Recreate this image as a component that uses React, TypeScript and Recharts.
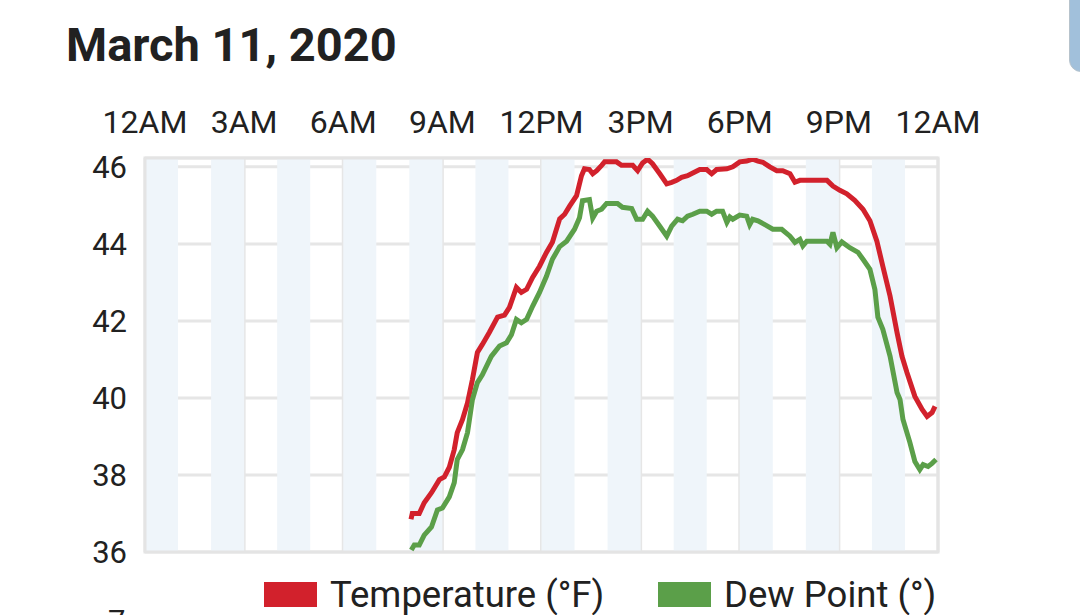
import React from "react";
import { LineChart, Line, XAxis, YAxis, CartesianGrid, ReferenceArea } from "recharts";

const chartTitle = "March 11, 2020";

const xTicks = [0, 3, 6, 9, 12, 15, 18, 21, 24];
const xTickLabels = ["12AM", "3AM", "6AM", "9AM", "12PM", "3PM", "6PM", "9PM", "12AM"];
const yTicks = [36, 38, 40, 42, 44, 46];
const yDomainMax = 46.23;

const bandStartHours = [0, 2, 4, 6, 8, 10, 12, 14, 16, 18, 20, 22];

const seriesNames = ["Temperature (°F)", "Dew Point (°)"];
const seriesColors = ["#d2212c", "#5b9f49"];

const tempHours = [
  8.05, 8.09, 8.3, 8.45, 8.67, 8.91, 9.06, 9.21, 9.36, 9.45, 9.61, 9.76, 9.91, 10.06, 10.21, 10.42,
  10.67, 10.88, 11.03, 11.24, 11.39, 11.55, 11.73, 11.94, 12.15, 12.33, 12.55, 12.7, 12.85, 13.06,
  13.21, 13.3, 13.45, 13.55, 13.67, 13.82, 13.91, 14.27, 14.42, 14.76, 14.91, 15.06, 15.21, 15.36,
  15.58, 15.79, 15.94, 16.09, 16.24, 16.42, 16.58, 16.79, 17.0, 17.15, 17.3, 17.61, 17.79, 18.0,
  18.21, 18.39, 18.55, 18.7, 18.91, 19.12, 19.3, 19.52, 19.67, 19.82, 20.03, 20.64, 20.82, 21.03,
  21.24, 21.48, 21.73, 21.94, 22.15, 22.33, 22.55, 22.76, 22.91, 23.06, 23.3, 23.52, 23.67, 23.82,
  23.91,
];
const tempValues = [
  36.85, 37.0, 37.0, 37.28, 37.54, 37.88, 37.95, 38.2, 38.66, 39.1, 39.44, 39.87, 40.48, 41.18, 41.39,
  41.7, 42.1, 42.15, 42.35, 42.87, 42.74, 42.82, 43.13, 43.42, 43.78, 44.04, 44.65, 44.77, 44.98,
  45.25, 45.77, 45.95, 45.93, 45.82, 45.9, 46.04, 46.13, 46.13, 46.04, 46.04, 45.9, 46.1, 46.2, 46.08,
  45.82, 45.56, 45.6, 45.65, 45.73, 45.77, 45.84, 45.93, 45.93, 45.82, 45.93, 45.95, 46.0, 46.13,
  46.15, 46.2, 46.15, 46.12, 46.0, 45.9, 45.9, 45.82, 45.6, 45.65, 45.65, 45.65, 45.5, 45.39, 45.3,
  45.13, 44.9, 44.6, 44.07, 43.42, 42.64, 41.7, 41.08, 40.66, 40.04, 39.7, 39.52, 39.62, 39.78,
];

const dewHours = [
  8.06, 8.15, 8.3, 8.45, 8.67, 8.85, 9.0, 9.21, 9.36, 9.45, 9.61, 9.76, 9.91, 10.06, 10.21, 10.48,
  10.73, 10.94, 11.09, 11.24, 11.39, 11.55, 11.73, 11.94, 12.15, 12.33, 12.55, 12.76, 13.0, 13.15,
  13.24, 13.45, 13.55, 13.67, 13.82, 13.97, 14.3, 14.45, 14.73, 14.88, 15.06, 15.21, 15.36, 15.58,
  15.79, 15.94, 16.12, 16.27, 16.42, 16.58, 16.79, 17.0, 17.15, 17.3, 17.48, 17.61, 17.7, 17.79,
  18.0, 18.21, 18.3, 18.39, 18.55, 18.76, 19.0, 19.27, 19.52, 19.67, 19.82, 19.91, 20.03, 20.64,
  20.73, 20.82, 20.94, 21.09, 21.33, 21.58, 21.73, 21.94, 22.09, 22.18, 22.33, 22.55, 22.76, 22.85,
  22.94, 23.15, 23.3, 23.45, 23.55, 23.7, 23.82, 23.94,
];
const dewValues = [
  36.05, 36.18, 36.18, 36.44, 36.65, 37.09, 37.14, 37.43, 37.8, 38.4, 38.66, 39.1, 39.96, 40.4, 40.6,
  41.08, 41.35, 41.43, 41.64, 42.04, 41.95, 42.04, 42.38, 42.74, 43.16, 43.6, 43.93, 44.07, 44.38,
  44.68, 45.12, 45.15, 44.67, 44.85, 44.9, 45.05, 45.05, 44.95, 44.92, 44.64, 44.64, 44.85, 44.72,
  44.46, 44.2, 44.46, 44.64, 44.6, 44.72, 44.77, 44.85, 44.85, 44.77, 44.85, 44.85, 44.56, 44.7,
  44.64, 44.75, 44.72, 44.5, 44.64, 44.6, 44.5, 44.38, 44.38, 44.2, 44.04, 44.12, 43.95, 44.07, 44.07,
  43.99, 44.3, 43.9, 44.05, 43.9, 43.78, 43.6, 43.34, 42.82, 42.1, 41.78, 41.08, 40.14, 39.96, 39.44,
  38.84, 38.35, 38.14, 38.27, 38.22, 38.3, 38.4,
];

const tempData = tempHours.map((t, i) => ({ t, v: tempValues[i] }));
const dewData = dewHours.map((t, i) => ({ t, v: dewValues[i] }));

const FONT = "Roboto, 'Noto Sans', sans-serif";
const TEXT = "#212121";

const XTick = (props: any) => {
  const idx = xTicks.indexOf(props.payload.value);
  return (
    <text x={props.x} y={props.y} textAnchor="middle" fill={TEXT} fontSize={32} fontFamily={FONT}>
      {xTickLabels[idx]}
    </text>
  );
};

const YTick = (props: any) => (
  <text x={props.x} y={props.y} dy={11} textAnchor="end" fill={TEXT} fontSize={31} fontFamily={FONT}>
    {props.payload.value}
  </text>
);

export default function App() {
  return (
    <div
      style={{
        position: "fixed",
        left: 0,
        top: 0,
        width: 1080,
        height: 615,
        background: "#ffffff",
        overflow: "hidden",
        fontFamily: FONT,
      }}
    >
      <div
        style={{
          position: "absolute",
          left: 66,
          top: 17,
          fontSize: 47,
          fontWeight: 700,
          color: TEXT,
          lineHeight: "56px",
          whiteSpace: "nowrap",
        }}
      >
        {chartTitle}
      </div>
      <div
        style={{
          position: "absolute",
          left: 1069,
          top: -14,
          width: 30,
          height: 84,
          background: "#a1c0db",
          border: "1px solid #b7c3cc",
          borderRadius: 12,
        }}
      />
      <div style={{ position: "absolute", left: 0, top: 0 }}>
        <LineChart width={1080} height={615} margin={{ top: 118, right: 142, bottom: 63, left: 85 }}>
          {bandStartHours.map((h) => (
            <ReferenceArea
              key={h}
              x1={h}
              x2={h + 1}
              y1={36}
              y2={yDomainMax}
              fill="#eff5fa"
              fillOpacity={1}
              stroke="none"
              ifOverflow="hidden"
            />
          ))}
          <CartesianGrid stroke="#e6e6e6" strokeWidth={3} />
          <ReferenceArea
            x1={0}
            x2={24}
            y1={36}
            y2={yDomainMax}
            fill="none"
            fillOpacity={0}
            stroke="#e4e4e4"
            strokeWidth={3}
          />
          <XAxis
            xAxisId={0}
            type="number"
            dataKey="t"
            orientation="top"
            domain={[0, 24]}
            ticks={xTicks}
            height={40}
            axisLine={false}
            tickLine={false}
            tickSize={0}
            tickMargin={25}
            tick={<XTick />}
            allowDataOverflow
            interval={0}
          />
          <YAxis
            type="number"
            domain={[36, yDomainMax]}
            ticks={yTicks}
            width={60}
            axisLine={false}
            tickLine={false}
            tickSize={0}
            tickMargin={18}
            tick={<YTick />}
            allowDataOverflow
            interval={0}
          />
          <Line
            data={tempData}
            dataKey="v"
            name={seriesNames[0]}
            type="linear"
            stroke={seriesColors[0]}
            strokeWidth={5}
            dot={false}
            isAnimationActive={false}
          />
          <Line
            data={dewData}
            dataKey="v"
            name={seriesNames[1]}
            type="linear"
            stroke={seriesColors[1]}
            strokeWidth={5}
            dot={false}
            isAnimationActive={false}
          />
        </LineChart>
      </div>
      <div style={{ position: "absolute", left: 264, top: 582, width: 53, height: 25, background: seriesColors[0] }} />
      <div
        style={{
          position: "absolute",
          left: 330,
          top: 575,
          fontSize: 36.5,
          lineHeight: "40px",
          color: TEXT,
          whiteSpace: "nowrap",
        }}
      >
        {seriesNames[0]}
      </div>
      <div style={{ position: "absolute", left: 658, top: 582, width: 53, height: 25, background: seriesColors[1] }} />
      <div
        style={{
          position: "absolute",
          left: 724,
          top: 575,
          fontSize: 36.5,
          lineHeight: "40px",
          color: TEXT,
          whiteSpace: "nowrap",
        }}
      >
        {seriesNames[1]}
      </div>
      <div
        style={{
          position: "absolute",
          left: 108,
          top: 604,
          fontSize: 31,
          lineHeight: "36px",
          color: TEXT,
        }}
      >
        7
      </div>
    </div>
  );
}
